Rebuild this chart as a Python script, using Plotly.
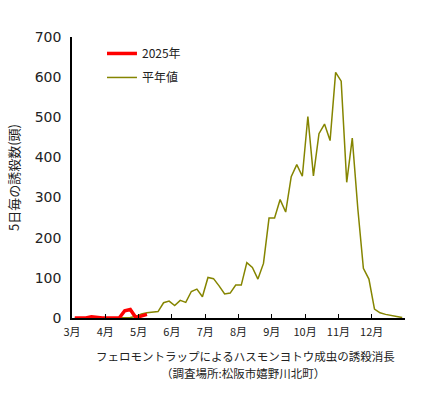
import plotly.graph_objects as go

months = [3, 4, 5, 6, 7, 8, 9, 10, 11, 12]
month_labels = ["3月", "4月", "5月", "6月", "7月", "8月", "9月", "10月", "11月", "12月"]
periods_per_month = 6  # 半旬 (5-day periods)

heinen = [
    0, 0, 0, 0, 0, 0,          # 3月
    0, 0, 0, 1, 1, 4,          # 4月
    10, 13, 15, 16, 38, 42,    # 5月
    31, 44, 39, 66, 72, 53,    # 6月
    101, 98, 80, 60, 62, 82,   # 7月
    82, 138, 126, 97, 136, 249,  # 8月
    249, 295, 264, 352, 382, 353,  # 9月
    502, 354, 459, 483, 442, 612,  # 10月
    590, 338, 448, 272, 124, 97,   # 11月
    22, 13, 9, 6, 3, 1,            # 12月
]
y2025 = [
    0, 0, 0, 3, 1, 0,      # 3月
    0, 0, 0, 18, 21, 1,    # 4月
    5, 9,                  # 5月
]

def period_x(n):
    return [months[0] + (i + 0.5) / periods_per_month for i in range(n)]

font_family = "Noto Sans CJK JP, Noto Sans, sans-serif"

fig = go.Figure()
fig.add_trace(go.Scatter(
    x=period_x(len(heinen)), y=heinen, mode="lines", name="平年値",
    line=dict(color="#858500", width=1.5), legendrank=2, legendgroup="b",
))
fig.add_trace(go.Scatter(
    x=period_x(len(y2025)), y=y2025, mode="lines", name="2025年",
    line=dict(color="#FF0000", width=3.5), legendrank=1, legendgroup="a",
))

fig.update_layout(
    width=421, height=394,
    margin=dict(l=72, r=16, t=37, b=76),
    paper_bgcolor="white", plot_bgcolor="white",
    font=dict(family=font_family, color="#222222"),
    showlegend=True,
    legend=dict(
        x=0.09, y=0.993, xanchor="left", yanchor="top",
        bgcolor="rgba(0,0,0,0)", font=dict(size=12, color="#222222"),
        traceorder="grouped", tracegroupgap=5,
    ),
    xaxis=dict(
        range=[3, 13], tickvals=months + [13], ticktext=month_labels + [""],
        showline=True, linecolor="black", linewidth=1.5,
        ticks="inside", ticklen=4, tickcolor="black", tickwidth=1,
        showgrid=False, zeroline=False, tickfont=dict(size=11),
        ticklabelstandoff=3, automargin=False,
    ),
    yaxis=dict(
        range=[0, 700], dtick=100, tick0=0,
        showline=True, linecolor="black", linewidth=1.5,
        ticks="", showgrid=False, zeroline=False,
        tickfont=dict(size=14, family="DejaVu Sans, Verdana, sans-serif"),
        ticklabelstandoff=6, automargin=False,
        title=dict(text="5日毎の誘殺数(頭)", font=dict(size=13), standoff=12),
    ),
    annotations=[
        dict(text="フェロモントラップによるハスモンヨトウ成虫の誘殺消長", xref="paper", yref="paper",
             x=0.52, y=-0.135, xanchor="center", yanchor="middle", showarrow=False,
             font=dict(size=11.5, color="#222222")),
        dict(text="（調査場所:松阪市嬉野川北町）", xref="paper", yref="paper",
             x=0.513, y=-0.196, xanchor="center", yanchor="middle", showarrow=False,
             font=dict(size=11.5, color="#222222")),
    ],
)

fig.write_html(
    "out.html",
    config={"displayModeBar": False},
    post_script="document.body.style.margin='0';document.body.style.overflow='hidden';",
)
